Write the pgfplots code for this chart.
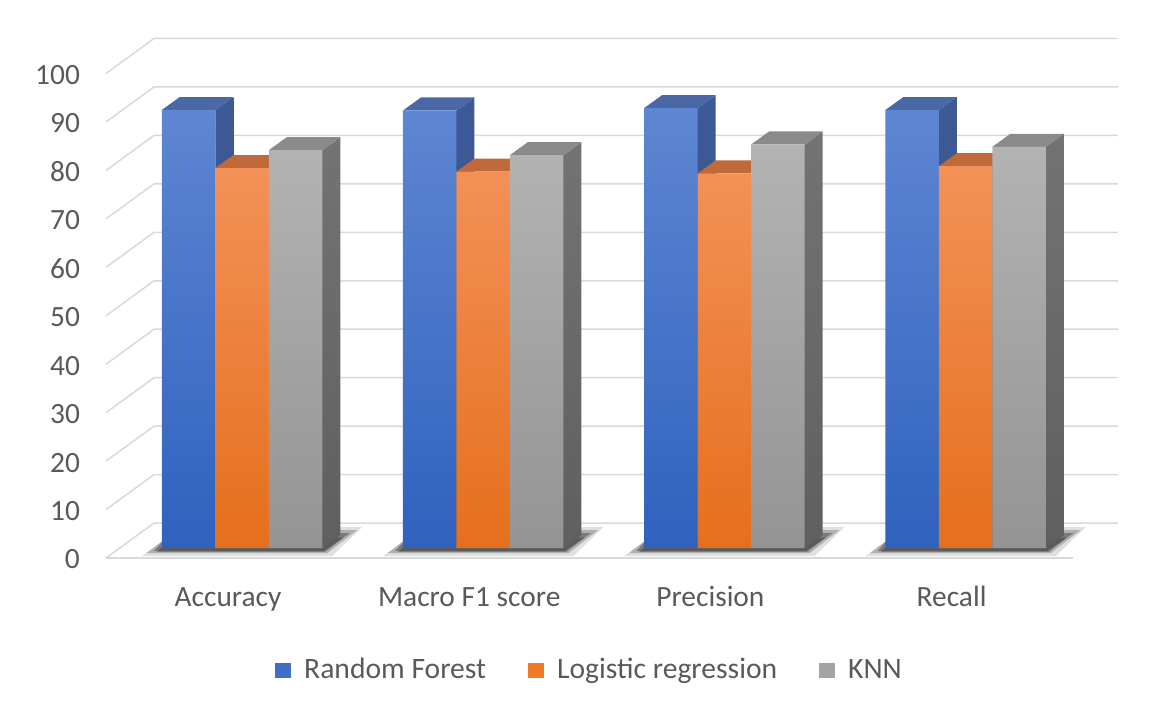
\documentclass[border=0pt]{standalone}
\usepackage{pgfplots}
\pgfplotsset{compat=1.18}
\usepackage{pgfplotstable}
\usepackage{fontspec}
\setmainfont{Carlito}

\definecolor{textc}{HTML}{595959}
\definecolor{gridc}{HTML}{D9D9D9}
% Random Forest
\definecolor{rfFT}{HTML}{5E86D2}
\definecolor{rfFB}{HTML}{2F62BE}
\definecolor{rfTop}{HTML}{4A68A6}
\definecolor{rfST}{HTML}{3D5A96}
\definecolor{rfSB}{HTML}{34508A}
\definecolor{rfL}{HTML}{3F6EC8}
% Logistic regression
\definecolor{lrFT}{HTML}{F39158}
\definecolor{lrFB}{HTML}{E56F1C}
\definecolor{lrTop}{HTML}{C06A3B}
\definecolor{lrST}{HTML}{A85A2C}
\definecolor{lrSB}{HTML}{9A5026}
\definecolor{lrL}{HTML}{EE7A2A}
% KNN
\definecolor{knFT}{HTML}{B3B3B3}
\definecolor{knFB}{HTML}{949494}
\definecolor{knTop}{HTML}{8A8A8A}
\definecolor{knST}{HTML}{737373}
\definecolor{knSB}{HTML}{5F5F5F}
\definecolor{knL}{HTML}{A3A3A3}

\pgfplotstableread{
x rf lr knn
0 90.4 78.4 82.1
1 90.3 77.7 81.1
2 90.8 77.3 83.3
3 90.4 78.8 82.8
}\datatable

% geometry (axis units)
\def\hw{0.1109}
\def\ddx{0.0746}
\def\ddy{2.683}
\def\bbase{2.064}
\def\wdy{7.224}
\def\gxf{-0.5638}
\def\gxb{-0.3648}
\def\gxe{3.6318}

\newcommand\gridline[1]{%
  \pgfmathsetmacro\gyb{#1+\wdy}%
  \edef\doit{\noexpand\addplot[forget plot, draw=gridc, line width=0.75pt]
    coordinates {(\gxf,#1) (\gxb,\gyb) (\gxe,\gyb)};}\doit}

\newcommand\shadowfor[1]{%
  \pgfmathsetmacro\sa{#1-0.4156}\pgfmathsetmacro\sb{#1+0.3742}%
  \pgfmathsetmacro\sc{#1+0.4985}\pgfmathsetmacro\sd{#1-0.2498}%
  \pgfmathsetmacro\se{#1-0.3949}\pgfmathsetmacro\sf{#1+0.3534}%
  \pgfmathsetmacro\sg{#1+0.4778}\pgfmathsetmacro\sh{#1-0.2705}%
  \pgfmathsetmacro\si{#1-0.3648}\pgfmathsetmacro\sj{#1+0.3400}%
  \pgfmathsetmacro\sk{#1+0.4478}\pgfmathsetmacro\sl{#1-0.2985}%
  \pgfmathsetmacro\sm{#1-0.3525}\pgfmathsetmacro\sn{#1+0.3450}%
  \pgfmathsetmacro\so{#1+0.4200}\pgfmathsetmacro\sp{#1-0.2900}%
  \edef\doit{%
    \noexpand\addplot[forget plot, draw=none, fill=black, fill opacity=0.12]
      coordinates {(\sa,0.413) (\sb,0.413) (\sc,6.398) (\sd,6.398)};
    \noexpand\addplot[forget plot, draw=none, fill=black, fill opacity=0.22]
      coordinates {(\se,1.032) (\sf,1.032) (\sg,5.779) (\sh,5.779)};
    \noexpand\addplot[forget plot, draw=none, fill=black, fill opacity=0.30]
      coordinates {(\si,1.445) (\sj,1.445) (\sk,5.16) (\sl,5.16)};
    \noexpand\addplot[forget plot, draw=none, fill=black, fill opacity=0.25]
      coordinates {(\sm,1.25) (\sn,1.25) (\so,4.2) (\sp,4.2)};
  }\doit}

% side and top faces of the columns of one series
\newcommand\facesfor[5]{%
  \pgfplotsinvokeforeach{0,1,2,3}{%
    \pgfplotstablegetelem{##1}{#1}\of\datatable
    \pgfmathsetmacro\bv{\pgfplotsretval}%
    \pgfmathsetmacro\bL{##1+#2-\hw}%
    \pgfmathsetmacro\bR{##1+#2+\hw}%
    \pgfmathsetmacro\bLd{\bL+\ddx}%
    \pgfmathsetmacro\bRd{\bR+\ddx}%
    \pgfmathsetmacro\bT{\bv+\bbase}%
    \pgfmathsetmacro\bTd{\bT+\ddy}%
    \pgfmathsetmacro\bBd{\bbase+\ddy}%
    \edef\doit{%
      \noexpand\addplot[forget plot, draw=none, top color=#4, bottom color=#5]
        coordinates {(\bR,\bbase) (\bRd,\bBd) (\bRd,\bTd) (\bR,\bT)};
      \noexpand\addplot[forget plot, draw=none, fill=#3]
        coordinates {(\bL,\bT) (\bR,\bT) (\bRd,\bTd) (\bLd,\bTd)};
    }\doit
  }}

\begin{document}
\begin{tikzpicture}
\useasboundingbox (0,0) rectangle (577pt,351.5pt);
\begin{axis}[
  at={(48.65pt,72.5pt)}, anchor=south west,
  scale only axis, width=506.5pt, height=242.25pt,
  xmin=-0.6, xmax=3.6, ymin=0, ymax=100,
  clip=false,
  axis line style={draw=none},
  tick style={draw=none},
  major tick length=0pt,
  ytick={0,10,...,100},
  xtick={0,1,2,3},
  xticklabels={Accuracy, Macro F1 score, Precision, Recall},
  /pgf/number format/assume math mode=true,
  tick label style={font=\fontsize{14.7}{17}\selectfont, text=textc},
  yticklabel style={anchor=east, inner sep=0pt, xshift=-8.5pt, yshift=-0.75pt},
  xticklabel style={anchor=base, inner sep=0pt, yshift=-24pt, xshift=-7pt},
  legend style={at={(0.4869,-0.2312)}, anchor=center, draw=none, fill=none,
    font=\fontsize{14.8}{17}\selectfont, text=textc,
    /tikz/every odd column/.append style={column sep=4.5pt},
    /tikz/every even column/.append style={column sep=19pt}},
  legend columns=3,
  legend image code/.code={\fill[#1] (0pt,-3.75pt) rectangle (8pt,3.75pt);},
]
% back wall and side wall gridlines
\gridline{0}\gridline{10}\gridline{20}\gridline{30}\gridline{40}\gridline{50}
\gridline{60}\gridline{70}\gridline{80}\gridline{90}\gridline{100}
% front edge of the floor
\addplot[forget plot, draw=gridc, line width=0.75pt] coordinates {(-0.5638,0) (3.4453,0)};
% shadows
\shadowfor{0}\shadowfor{1}\shadowfor{2}\shadowfor{3}

% Random Forest
\facesfor{rf}{-0.2218}{rfTop}{rfST}{rfSB}
\addplot[ybar, forget plot, bar width=0.2218, bar shift=-0.2218, yshift=5pt,
  draw=none, top color=rfFT, bottom color=rfFB] table[x=x, y=rf] {\datatable};
% Logistic regression
\facesfor{lr}{0}{lrTop}{lrST}{lrSB}
\addplot[ybar, forget plot, bar width=0.2218, bar shift=0, yshift=5pt,
  draw=none, top color=lrFT, bottom color=lrFB] table[x=x, y=lr] {\datatable};
% KNN
\facesfor{knn}{0.2218}{knTop}{knST}{knSB}
\addplot[ybar, forget plot, bar width=0.2218, bar shift=0.2218, yshift=5pt,
  draw=none, top color=knFT, bottom color=knFB] table[x=x, y=knn] {\datatable};

\addlegendimage{fill=rfL, draw=none}
\addlegendentry{Random Forest}
\addlegendimage{fill=lrL, draw=none}
\addlegendentry{Logistic regression}
\addlegendimage{fill=knL, draw=none}
\addlegendentry{KNN}
\end{axis}
\end{tikzpicture}
\end{document}
